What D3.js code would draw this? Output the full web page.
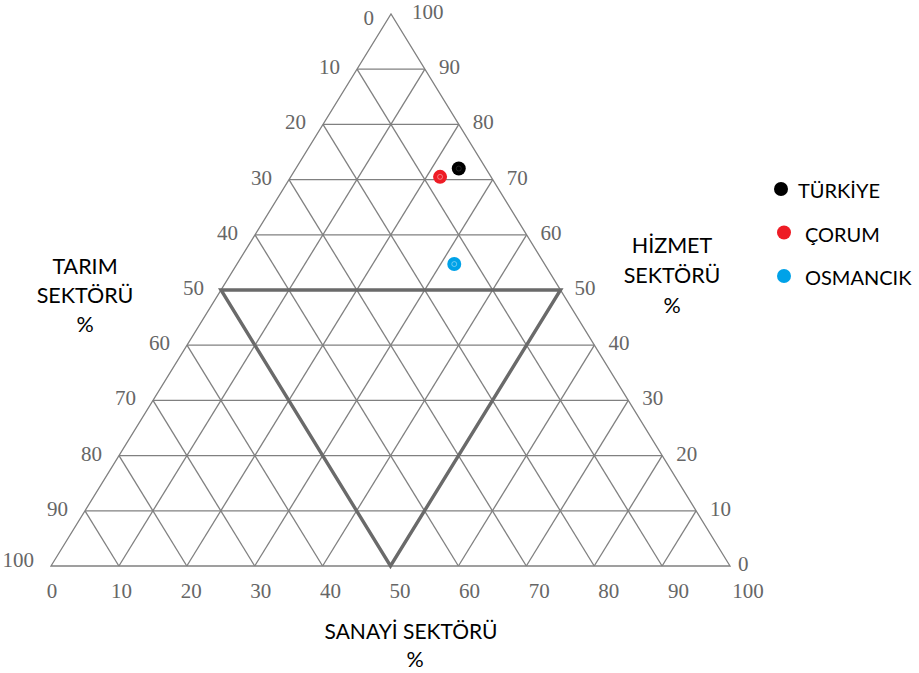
<!DOCTYPE html>
<html><head><meta charset="utf-8">
<script src="https://cdn.jsdelivr.net/npm/d3@7/dist/d3.min.js"></script>
<style>body{margin:0;background:#fff}svg{display:block}</style>
</head><body>
<svg id="c" width="919" height="673"></svg>
<script>
// data
const ticks = [0,10,20,30,40,50,60,70,80,90,100];
const series = ["TÜRKİYE","ÇORUM","OSMANCIK"];
const tarim  = [4, 7.5, 13.3];
const sanayi = [24, 22, 32];
const hizmet = [72, 70.5, 54.7];
const colors = ["#000000","#ee1c25","#00a2e8"];
const axisTitles = {tarim:["TARIM","SEKTÖRÜ","%"], hizmet:["HİZMET","SEKTÖRÜ","%"], sanayi:["SANAYİ SEKTÖRÜ","%"]};

const svg = d3.select("#c");
const yH = d3.scaleLinear().domain([0,100]).range([566,14]);
const xS = d3.scaleLinear().domain([0,100]).range([0,679]);
const xH = d3.scaleLinear().domain([0,100]).range([0,340]);
const x0 = 51;
function pt(t,s,h){ return [x0 + xS(s) + xH(h), yH(h)]; }

const grid = svg.append("g").attr("stroke","#808080").attr("stroke-width",1.3).attr("fill","none");
const line = d3.line();
ticks.slice(1,-1).forEach(v=>{
  grid.append("path").attr("d",line([pt(100-v,0,v),pt(0,100-v,v)]));
  grid.append("path").attr("d",line([pt(v,0,100-v),pt(v,100-v,0)]));
  grid.append("path").attr("d",line([pt(0,v,100-v),pt(100-v,v,0)]));
});
grid.append("path").attr("d",line([pt(100,0,0),pt(0,100,0),pt(0,0,100)])+"Z");
svg.append("path").attr("d",line([pt(50,0,50),pt(0,50,50),pt(50,50,0)])+"Z")
  .attr("fill","none").attr("stroke","#6a6a6a").attr("stroke-width",3.4).attr("stroke-linejoin","miter");

const tf = {"font-family":"'Liberation Serif','DejaVu Serif',serif","font-size":"21px","fill":"#666"};
function styl(sel,o){ Object.entries(o).forEach(([k,v])=>sel.attr(k,v)); return sel; }
ticks.forEach(v=>{
  const p = pt(v,0,100-v);
  styl(svg.append("text"),tf).attr("x",p[0]-17).attr("y",p[1]+(v===0?4:v===100?-6:-2))
    .attr("text-anchor","end").attr("dominant-baseline","central").text(v);
});
ticks.forEach(v=>{
  const p = pt(0,100-v,v);
  styl(svg.append("text"),tf).attr("x",p[0]+(v===100?21:v===0?8:14)).attr("y",p[1]-2)
    .attr("text-anchor","start").attr("dominant-baseline","central").text(v);
});
const xLab = d3.scaleLinear().domain([0,100]).range([52,748]);
ticks.forEach(v=>{
  styl(svg.append("text"),tf).attr("x",xLab(v)).attr("y",591)
    .attr("text-anchor","middle").attr("dominant-baseline","central").text(v);
});

const af = {"font-family":"Lato,'Open Sans',sans-serif","font-size":"21.5px","fill":"#000"};
axisTitles.tarim.forEach((s,i)=>styl(svg.append("text"),af).attr("x",85).attr("y",266+i*29)
  .attr("text-anchor","middle").attr("dominant-baseline","central").text(s));
axisTitles.hizmet.forEach((s,i)=>styl(svg.append("text"),af).attr("x",672).attr("y",245+i*30)
  .attr("text-anchor","middle").attr("dominant-baseline","central").text(s));
axisTitles.sanayi.forEach((s,i)=>styl(svg.append("text"),af).attr("x",411+i*4).attr("y",630+i*29)
  .attr("text-anchor","middle").attr("dominant-baseline","central").attr("font-size",i===0?"21px":"21.5px").text(s));

series.forEach((n,i)=>{
  const p = pt(tarim[i],sanayi[i],hizmet[i]);
  svg.append("circle").attr("cx",p[0]).attr("cy",p[1]).attr("r",7).attr("fill",colors[i]);
  svg.append("circle").attr("cx",p[0]).attr("cy",p[1]).attr("r",2.5).attr("fill","none")
    .attr("stroke", i===0?"#555":"#fff").attr("stroke-opacity",0.5).attr("stroke-width",0.8);
});

const legY = d3.scalePoint().domain(series).range([189,276]);
const legMX = [781,784,784], legTX = [798,805,805];
series.forEach((n,i)=>{
  svg.append("circle").attr("cx",legMX[i]).attr("cy",legY(n)).attr("r",7).attr("fill",colors[i]);
  styl(svg.append("text"),af).attr("x",legTX[i]).attr("y",legY(n)+1).attr("font-size","20px")
    .attr("dominant-baseline","central").text(n);
});
</script>
</body></html>
